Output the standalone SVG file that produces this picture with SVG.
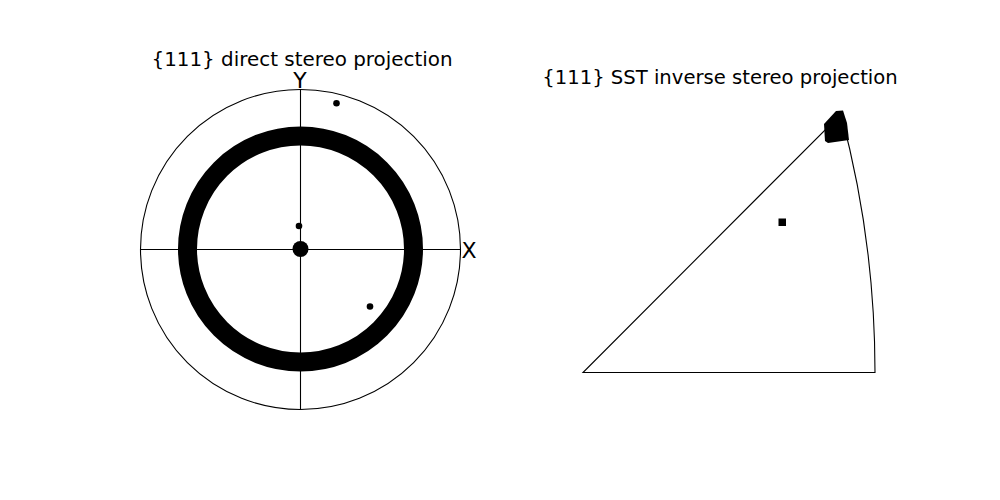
<svg xmlns="http://www.w3.org/2000/svg" width="1000" height="500" viewBox="0 0 1000 500">
<style>
.t{font-family:"DejaVu Sans",Verdana,sans-serif;fill:#000}
.ln{fill:none;stroke:#000;stroke-width:1.1}
.pt{fill:#000}
</style>
<rect width="1000" height="500" fill="#fff"/>
<g id="direct">
<text class="t" x="302" y="66" font-size="19.9" text-anchor="middle">{111} direct stereo projection</text>
<circle class="ln" cx="300.5" cy="249.5" r="160"/>
<g id="axes">
<line class="ln" x1="140.5" y1="249.5" x2="460.5" y2="249.5"/>
<line class="ln" x1="300.5" y1="89.5" x2="300.5" y2="409.5"/>
</g>
<text class="t" x="300" y="88" font-size="22" text-anchor="middle">Y</text>
<text class="t" x="461.5" y="257.5" font-size="22">X</text>
<circle id="ring" cx="300.5" cy="249" r="113" fill="none" stroke="#000" stroke-width="19"/>
<circle class="pt" cx="300.5" cy="249" r="8"/>
<circle class="pt" cx="299" cy="226" r="3.3"/>
<circle class="pt" cx="336.5" cy="103.3" r="3.3"/>
<circle class="pt" cx="370" cy="306.5" r="3.3"/>
</g>
<g id="inverse">
<text class="t" x="720" y="84" font-size="19.6" text-anchor="middle">{111} SST inverse stereo projection</text>
<path class="ln" d="M583 372.5 L875 372.5 A997 997 0 0 0 841 114 Z"/>
<polygon class="pt" points="824,124 836,111 843,110.5 847,123 849,140 828,143 825,141"/>
<rect class="pt" x="778.5" y="218.5" width="7.5" height="7.5"/>
</g>
</svg>
